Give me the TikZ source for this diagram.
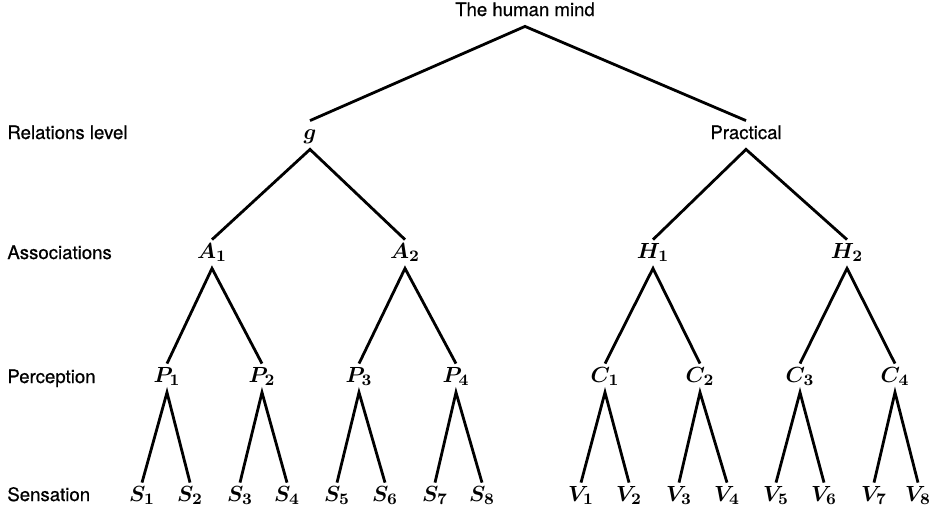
\documentclass[tikz,border=0pt]{standalone}
\usepackage{fontspec}
\setmainfont{TeX Gyre Heros}[FakeBold=0.6]
\begin{document}
\begin{tikzpicture}[x=0.5pt,y=-0.5pt,
  lvl/.style={font=\fontsize{9.3}{11}\selectfont, text height=6.5pt, text depth=2.5pt, inner xsep=1pt, inner ysep=2.5pt},
  var/.style={lvl, font=\fontsize{11}{13}\selectfont\boldmath},
  rowlabel/.style={lvl, anchor=west, inner xsep=0pt},
  branch/.style={line width=1.4pt}]
\useasboundingbox (0,0) rectangle (936,515);
% row labels
\node[rowlabel] (rl) at (7,135) {Relations level};
\node[rowlabel] (as) at (7,255) {Associations};
\node[rowlabel] (pe) at (7,379) {Perception};
\node[rowlabel] (se) at (7,497) {Sensation};
% top and relations level
\node[lvl] (mind) at (525,12) {The human mind};
\node[var] (g) at (310,135) {$g$};
\node[lvl] (pr) at (746,135) {Practical};
% associations
\node[var] (a1) at (212,254) {$A_1$};
\node[var] (a2) at (405,254) {$A_2$};
\node[var] (h1) at (653,254) {$H_1$};
\node[var] (h2) at (847,254) {$H_2$};
% perception
\node[var] (p1) at (167,378) {$P_1$};
\node[var] (p2) at (262,378) {$P_2$};
\node[var] (p3) at (359,378) {$P_3$};
\node[var] (p4) at (456,378) {$P_4$};
\node[var] (c1) at (605,378) {$C_1$};
\node[var] (c2) at (700,378) {$C_2$};
\node[var] (c3) at (800,378) {$C_3$};
\node[var] (c4) at (895,378) {$C_4$};
% sensation
\node[var] (s1) at (142,497) {$S_1$};
\node[var] (s2) at (190,497) {$S_2$};
\node[var] (s3) at (240,497) {$S_3$};
\node[var] (s4) at (287,497) {$S_4$};
\node[var] (s5) at (337,497) {$S_5$};
\node[var] (s6) at (385,497) {$S_6$};
\node[var] (s7) at (435,497) {$S_7$};
\node[var] (s8) at (482,497) {$S_8$};
\node[var] (v1) at (581,497) {$V_1$};
\node[var] (v2) at (629,497) {$V_2$};
\node[var] (v3) at (679,497) {$V_3$};
\node[var] (v4) at (727,497) {$V_4$};
\node[var] (v5) at (776,497) {$V_5$};
\node[var] (v6) at (824,497) {$V_6$};
\node[var] (v7) at (874,497) {$V_7$};
\node[var] (v8) at (918,497) {$V_8$};
% branches
\draw[branch] (g.north) -- (mind.south) -- (pr.north);
\draw[branch] (a1.north) -- (g.south) -- (a2.north);
\draw[branch] (h1.north) -- (pr.south) -- (h2.north);
\draw[branch] (p1.north) -- (a1.south) -- (p2.north);
\draw[branch] (p3.north) -- (a2.south) -- (p4.north);
\draw[branch] (c1.north) -- (h1.south) -- (c2.north);
\draw[branch] (c3.north) -- (h2.south) -- (c4.north);
\draw[branch] (s1.north) -- (p1.south) -- (s2.north);
\draw[branch] (s3.north) -- (p2.south) -- (s4.north);
\draw[branch] (s5.north) -- (p3.south) -- (s6.north);
\draw[branch] (s7.north) -- (p4.south) -- (s8.north);
\draw[branch] (v1.north) -- (c1.south) -- (v2.north);
\draw[branch] (v3.north) -- (c2.south) -- (v4.north);
\draw[branch] (v5.north) -- (c3.south) -- (v6.north);
\draw[branch] (v7.north) -- (c4.south) -- (v8.north);
\end{tikzpicture}
\end{document}
